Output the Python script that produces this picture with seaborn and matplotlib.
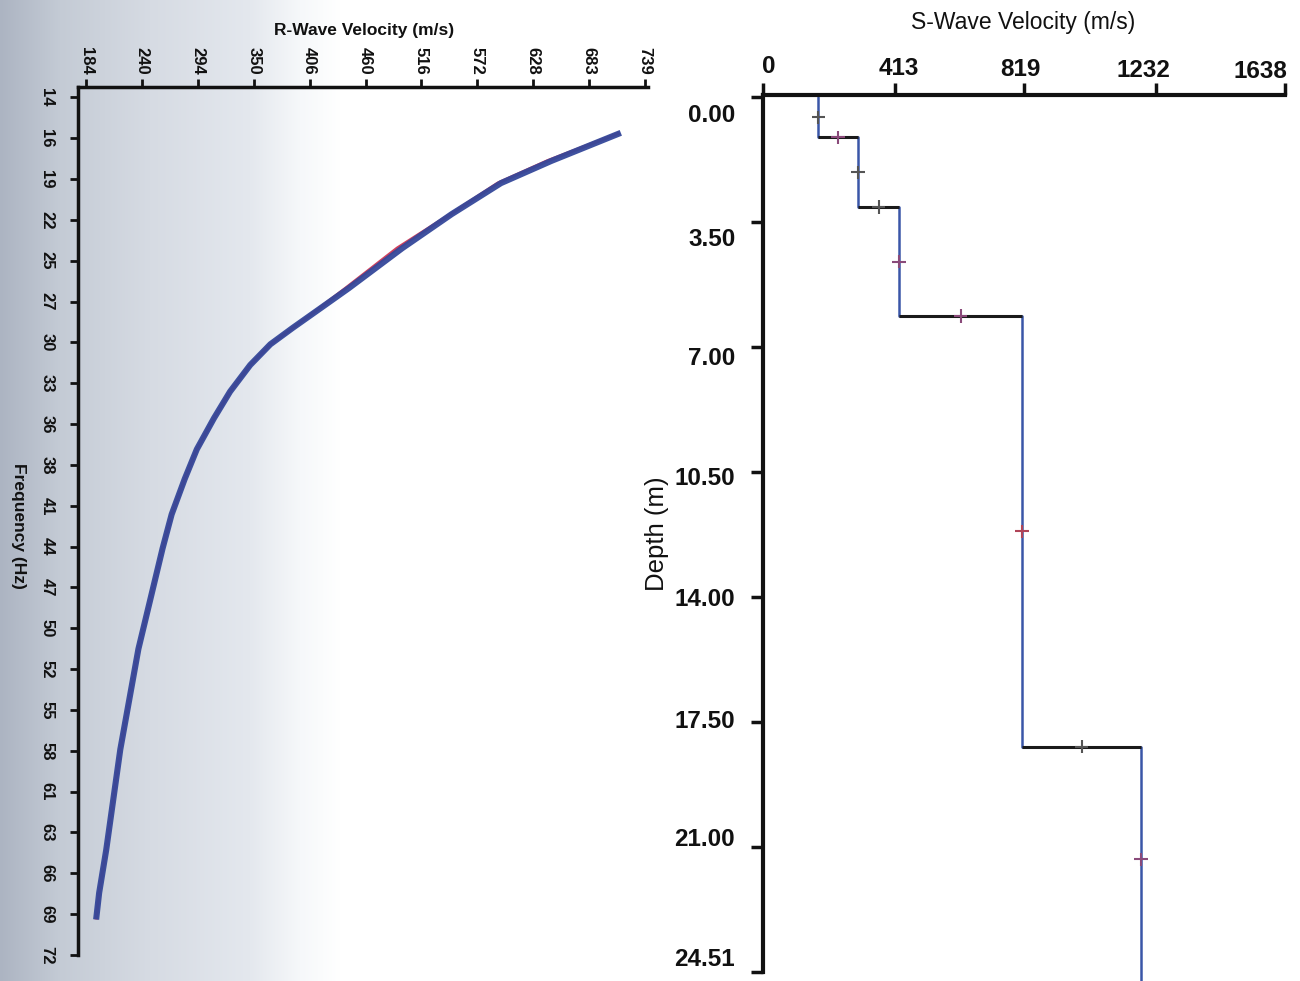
import numpy as np
import pandas as pd
import matplotlib
matplotlib.use("Agg")
import matplotlib.pyplot as plt
import matplotlib.transforms as mtrans
import seaborn as sns

sns.set_theme(style="white")
plt.rcParams['font.family'] = ['Liberation Sans', 'DejaVu Sans']

# ---------------- data ----------------
# Left panel: dispersion curve (Rayleigh phase velocity vs frequency)
freq_tick_labels = ["14", "16", "19", "22", "25", "27", "30", "33", "36", "38", "41",
                    "44", "47", "50", "52", "55", "58", "61", "63", "66", "69", "72"]
vel_tick_labels = ["184", "240", "294", "350", "406", "460", "516", "572", "628", "683", "739"]

obs_freq = [16.4, 18.3, 19.8, 21.9, 24.2, 26.9, 28.3, 29.6, 30.7, 32.1, 33.9, 35.7,
            37.8, 39.8, 42.2, 44.5, 47.9, 51.3, 54.7, 58.1, 61.5, 64.9, 67.8, 69.6]
obs_vel = [715, 646, 596, 547, 498, 445, 416, 389, 367, 347, 327, 311,
           294, 282, 269, 260, 248, 236, 227, 218, 211, 204, 197, 194]

theo_freq = [16.4, 18.3, 19.8, 21.9, 24.2, 26.9, 28.3, 29.6, 30.7, 32.1, 33.9, 35.7,
             37.8, 39.8, 42.2, 44.5, 47.9, 51.3, 54.7, 58.1, 61.5, 64.9, 67.8, 69.6]
theo_vel = [714, 642, 593, 546, 493, 442, 415, 389, 367, 347, 327, 311,
            294, 282, 269, 260, 248, 236, 227, 218, 211, 204, 197, 194]

# Right panel: layered S-wave velocity model
s_tick_values = [0, 413, 819, 1232, 1638]
s_tick_labels = ["0", "413", "819", "1232", "1638"]
depth_tick_values = [0.0, 3.5, 7.0, 10.5, 14.0, 17.5, 21.0, 24.51]
depth_tick_labels = ["0.00", "3.50", "7.00", "10.50", "14.00", "17.50", "21.00", "24.51"]

layer_vs = [173, 298, 427, 813, 1186]
layer_top = [0.0, 1.12, 3.08, 6.13, 18.2]
layer_bottom = [1.12, 3.08, 6.13, 18.2, 24.51]

# ---------------- figure ----------------
W, H = 1300, 981
DPI = 100
fig = plt.figure(figsize=(W / DPI, H / DPI), dpi=DPI)
fig.patch.set_facecolor("white")

# scanned-paper grey shading at the left side
bg = fig.add_axes([0, 0, 1, 1], zorder=-5)
xs = np.arange(W)
stops_x = [0, 60, 150, 250, 300, 340, W]
stops_c = np.array([[172, 180, 194], [196, 203, 213], [214, 219, 227],
                    [228, 232, 238], [246, 248, 250], [255, 255, 255], [255, 255, 255]]) / 255.0
grad = np.stack([np.interp(xs, stops_x, stops_c[:, k]) for k in range(3)], axis=-1)
bg.imshow(grad[np.newaxis, :, :], aspect="auto", extent=[0, 1, 0, 1])
bg.set_axis_off()


def shift_labels(labels, dx_px, dy_px):
    # dx right positive, dy down positive (pixels)
    for lab, dx, dy in zip(labels, dx_px, dy_px):
        off = mtrans.ScaledTranslation(dx / DPI, -dy / DPI, fig.dpi_scale_trans)
        lab.set_transform(lab.get_transform() + off)


# ---------- left panel ----------
axL = fig.add_axes([78 / W, 1 - 955 / H, (648 - 78) / W, (955 - 87) / H])
axL.set_facecolor("none")

df_theo = pd.DataFrame({"vel": theo_vel, "freq": theo_freq})
df_obs = pd.DataFrame({"vel": obs_vel, "freq": obs_freq})
sns.lineplot(data=df_theo, x="vel", y="freq", sort=False, estimator=None,
             color="#d2405c", lw=2.4, ax=axL, zorder=2)
sns.lineplot(data=df_obs, x="vel", y="freq", sort=False, estimator=None,
             color="#34489a", lw=4.4, ax=axL, zorder=3, alpha=0.95)
for ln in axL.lines:
    ln.set_solid_capstyle("butt")
    ln.set_solid_joinstyle("round")

axL.set_xlim(176, 742)
axL.set_ylim(72, 13.3)
axL.xaxis.tick_top()
axL.set_xticks(np.linspace(184, 739, len(vel_tick_labels)))
axL.set_xticklabels(vel_tick_labels, rotation=-90, fontsize=12, fontweight="bold")
axL.set_yticks(np.linspace(14, 72, len(freq_tick_labels)))
axL.set_yticklabels(freq_tick_labels, rotation=-90, fontsize=12, fontweight="bold",
                    va="center")
axL.tick_params(axis="x", top=True, bottom=False, direction="out", length=6, width=2,
                pad=3, colors="#111111")
axL.tick_params(axis="y", left=True, right=False, direction="out", length=6, width=2,
                pad=11, colors="#111111")
for s in ["bottom", "right"]:
    axL.spines[s].set_visible(False)
for s in ["top", "left"]:
    axL.spines[s].set_linewidth(2.5)
    axL.spines[s].set_color("#111111")
axL.set_xlabel("")
axL.set_ylabel("")
axL.grid(False)

fig.text(364 / W, 1 - 30 / H, "R-Wave Velocity (m/s)", ha="center", va="center",
         fontsize=12.5, fontweight="bold", color="#111111")
fig.text(18 / W, 1 - 526 / H, "Frequency (Hz)", ha="center", va="center",
         rotation=-90, fontsize=12.5, fontweight="bold", color="#111111")

# ---------- right panel ----------
axR = fig.add_axes([763 / W, 1 - 972 / H, (1285 - 763) / W, (972 - 95) / H])
axR.set_facecolor("none")

step_v, step_d = [], []
for v, t, b in zip(layer_vs, layer_top, layer_bottom):
    step_v += [v, v]
    step_d += [t, b]
step_d[-1] = 24.9
df_step = pd.DataFrame({"vs": step_v, "depth": step_d})
sns.lineplot(data=df_step, x="vs", y="depth", sort=False, estimator=None,
             color="#3a56a8", lw=1.8, ax=axR, zorder=2)
for ln in axR.lines:
    ln.set_clip_on(False)
axR.hlines(layer_bottom[:-1], layer_vs[:-1], layer_vs[1:], color="#1a1a1a", lw=2.2, zorder=3)

# "+" markers at the midpoint of every segment
mid_v = [v for v in layer_vs] + [(a + b) / 2 for a, b in zip(layer_vs[:-1], layer_vs[1:])]
mid_d = [(t + b) / 2 for t, b in zip(layer_top, layer_bottom)] + list(layer_bottom[:-1])
mk_col = ["#555555", "#555555", "#8a4a7a", "#b04458", "#8a4a7a",
          "#8a4a7a", "#555555", "#8a4a7a", "#555555"]
df_mk = pd.DataFrame({"vs": mid_v, "depth": mid_d, "c": range(len(mid_v))})
sns.scatterplot(data=df_mk, x="vs", y="depth", hue="c", palette=mk_col, marker="+",
                s=90, linewidth=1.5, legend=False, ax=axR, zorder=4)

axR.set_xlim(0, 1638)
axR.set_ylim(24.51, -0.06)
axR.xaxis.tick_top()
axR.set_xticks(s_tick_values)
axR.set_xticklabels(s_tick_labels, fontsize=17.5, fontweight="bold")
axR.set_yticks(depth_tick_values)
axR.set_yticklabels(depth_tick_labels, fontsize=17.5, fontweight="bold")
axR.tick_params(axis="x", top=True, bottom=False, direction="out", length=9, width=2.5,
                pad=3, colors="#111111")
axR.tick_params(axis="y", left=True, right=False, direction="out", length=9, width=2.5,
                pad=11, colors="#111111")
for s in ["bottom", "right"]:
    axR.spines[s].set_visible(False)
for s in ["top", "left"]:
    axR.spines[s].set_linewidth(3)
    axR.spines[s].set_color("#111111")
axR.set_xlabel("")
axR.set_ylabel("")
axR.grid(False)

# the scanned software places its labels slightly off the tick marks
shift_labels(axR.get_xticklabels(), [6, 4, -4, -12, -25], [0, 2, 3, 4, 5])
shift_labels(axR.get_yticklabels(), [0] * 8, [16, 15, 9, 4, 0, -3, -10, -15])

fig.text(1023 / W, 1 - 22 / H, "S-Wave Velocity (m/s)", ha="center", va="center",
         fontsize=16.5, color="#111111")
fig.text(657 / W, 1 - 534 / H, "Depth (m)", ha="center", va="center",
         rotation=90, fontsize=18.5, color="#111111")

fig.savefig("out.png", dpi=DPI)
